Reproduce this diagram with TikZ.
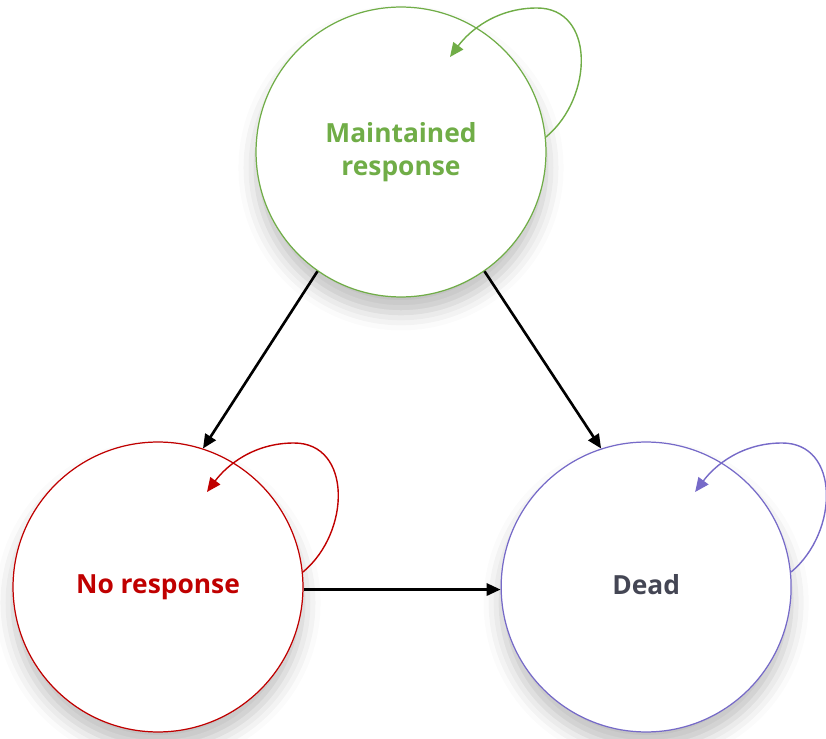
\documentclass[tikz,border=0pt]{standalone}
\usepackage{fontspec}
\setmainfont{Open Sans}
\usepackage{tikz}
\usetikzlibrary{
  arrows.meta,
  positioning,
  shadows.blur
}
\definecolor{maintgreen}{RGB}{112,173,71}
\definecolor{noresred}{RGB}{192,0,0}
\definecolor{deadblue}{RGB}{118,106,200}
\definecolor{deadtext}{RGB}{68,70,84}
\tikzset{
  state/.style=
  {
    circle,
    draw,
    fill=white,
    line width=0.7pt,
    minimum size=5.8cm,
    align=center,
    font=\fontsize{15}{18.5}\selectfont\bfseries,
    blur shadow={shadow xshift=0pt, shadow yshift=-9pt,
      shadow blur radius=10pt, shadow opacity=25}
  },
  transition/.style=
  {
    line width=1.5pt,
    draw=black,
    ->,
    >={Triangle[length=8pt,width=7pt]}
  },
  selfloopline/.style=
  {
    line width=0.8pt,
    ->,
    >={Triangle[length=8pt,width=7pt]}
  }
}
% loop leaves the right side and comes back in near the top
\newcommand{\selfloop}[2]{%
  \draw[selfloopline,#2] ([shift={(145,15)}]#1.center)
    .. controls +(48,40) and +(58,0) .. ([shift={(136,144)}]#1.center)
    .. controls +(-40,0) and +(20,27) .. ([shift={(49,95)}]#1.center);
}

\begin{document}
\begin{tikzpicture}[x=0.02cm, y=0.02cm]
  \useasboundingbox (0,0) rectangle (826,738);
  \node[state, draw=maintgreen, text=maintgreen] (maint) at (401,586) {Maintained\\response};
  \node[state, draw=noresred, text=noresred, text depth=0.3em] (nores) at (158,151) {No response};
  \node[state, draw=deadblue, text=deadtext, text depth=0.3em, right=3.94cm of nores] (dead) {Dead};

  \draw[transition] (maint.235) -- (nores.72);
  \draw[transition] (maint.305) -- (dead.108);
  \draw[transition] (nores.-1) -- (dead.181);

  \selfloop{maint}{maintgreen}
  \selfloop{nores}{noresred}
  \selfloop{dead}{deadblue}
\end{tikzpicture}
\end{document}
